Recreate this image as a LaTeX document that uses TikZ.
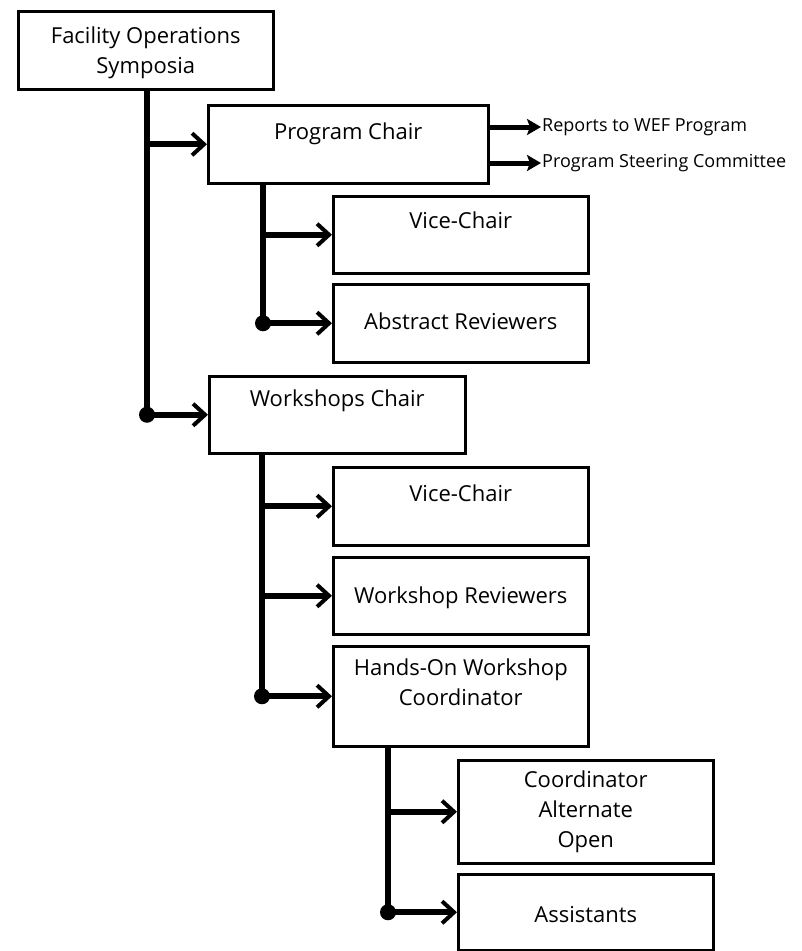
\documentclass[tikz,border=0pt]{standalone}
\usepackage{fontspec}
\setmainfont{Open Sans}
\usetikzlibrary{positioning,arrows.meta}

\begin{document}
\begin{tikzpicture}[x=1pt, y=-1pt,
  box/.style={rectangle, draw, line width=2.5pt, minimum width=255pt, minimum height=77pt, anchor=north west, inner sep=0pt},
  lbl/.style={font=\fontsize{22}{30}\selectfont, align=center, inner sep=0pt},
  sidelbl/.style={font=\fontsize{18}{20}\selectfont, anchor=west, inner sep=1pt},
  trunk/.style={line width=6pt},
  link/.style={line width=6pt, -{Straight Barb[length=12pt, width=22pt, line width=4pt]}},
  side/.style={line width=5pt, -{Stealth[length=14pt, width=16pt, inset=3pt]}}]
\useasboundingbox (0,0) rectangle (802,951);

\node (rect) [box, minimum height=78pt] at (17,10) {};
\node [lbl] at ([yshift=-43pt]rect.north) {Facility Operations\\Symposia};

\node (rectP) [box, minimum width=280pt, minimum height=78pt] at (207,104) {};
\node [lbl] at ([yshift=-30pt]rectP.north) {Program Chair};
\node (rectP0) [box] at (332,195) {};
\node [lbl] at ([yshift=-25pt]rectP0.north) {Vice-Chair};
\node (rectP1) [box, minimum height=78pt] at (332,283) {};
\node [lbl] at ([yshift=2pt]rectP1.center) {Abstract Reviewers};

\node (rep) [sidelbl] at (541,127) {Reports to WEF Program};
\node (psc) [sidelbl] at (541,163) {Program Steering Committee};

\node (rectW) [box, minimum width=256pt] at (208,375) {};
\node [lbl] at ([yshift=-26pt]rectW.north) {Workshops Chair};
\node (rectW0) [box, minimum height=78pt] at (332,466) {};
\node [lbl] at ([yshift=-27pt]rectW0.north) {Vice-Chair};
\node (rectW1) [box] at (332,556) {};
\node [lbl] at ([yshift=-2pt]rectW1.center) {Workshop Reviewers};
\node (rectW2) [box, minimum height=100pt] at (332,645) {};
\node [lbl] at ([yshift=-37pt]rectW2.north) {Hands-On Workshop\\Coordinator};

\node (rectH0) [box, minimum height=103pt] at (457,759) {};
\node [lbl] at (rectH0.center) {Coordinator\\Alternate\\Open};
\node (rectH1) [box, minimum height=76pt] at (457,873) {};
\node [lbl] at ([yshift=-2pt]rectH1.center) {Assistants};

% trunk positions
\coordinate (tF) at ([xshift=130pt]rect.south west);
\coordinate (tP) at ([xshift=56pt]rectP.south west);
\coordinate (tW) at ([xshift=54pt]rectW.south west);
\coordinate (tH) at ([xshift=56pt]rectW2.south west);

\draw [trunk] (tF) -- (tF |- rectW.west);
\draw [link] (tF |- rectP.west) -- (rectP.west);
\draw [link] (tF |- rectW.west) -- (rectW.west);
\fill (tF |- rectW.west) circle (8pt);

\draw [trunk] (tP) -- (tP |- rectP1.west);
\draw [link] (tP |- rectP0.west) -- (rectP0.west);
\draw [link] (tP |- rectP1.west) -- (rectP1.west);
\fill (tP |- rectP1.west) circle (8pt);

\draw [trunk] (tW) -- (tW |- rectW2.west);
\draw [link] (tW |- rectW0.west) -- (rectW0.west);
\draw [link] (tW |- rectW1.west) -- (rectW1.west);
\draw [link] (tW |- rectW2.west) -- (rectW2.west);
\fill (tW |- rectW2.west) circle (8pt);

\draw [trunk] (tH) -- (tH |- rectH1.west);
\draw [link] (tH |- rectH0.west) -- (rectH0.west);
\draw [link] (tH |- rectH1.west) -- (rectH1.west);
\fill (tH |- rectH1.west) circle (8pt);

\draw [side] ([xshift=-3pt]rectP.north east |- rep.west) -- (rep.west);
\draw [side] ([xshift=-3pt]rectP.north east |- psc.west) -- (psc.west);
\end{tikzpicture}
\end{document}
